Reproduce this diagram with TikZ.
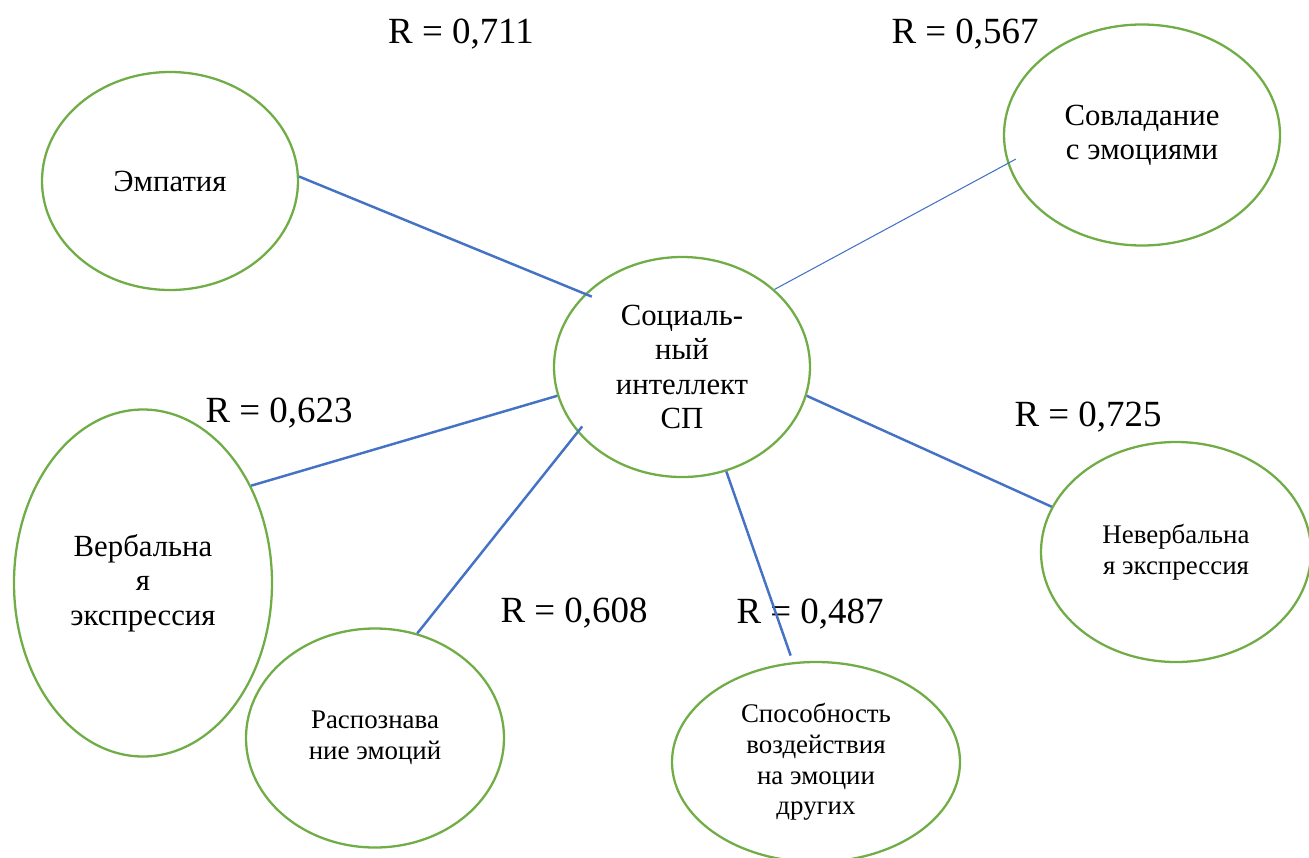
\documentclass[tikz,border=0pt]{standalone}
\usepackage{fontspec}
\setmainfont{Liberation Serif}
\usepackage{tikz}
\usetikzlibrary{shapes.geometric}
\definecolor{leafgreen}{HTML}{70AD47}
\definecolor{linkblue}{HTML}{4472C4}

\begin{document}
\begin{tikzpicture}[
        oval/.style={ellipse, draw=leafgreen, line width=1.3pt, inner sep=0pt, align=center, font={\fontsize{17.5}{19.5}\selectfont}},
        smalloval/.style={oval, font={\fontsize{15.3}{17.5}\selectfont}},
        link/.style={draw=linkblue, line width=1.4pt},
        rlabel/.style={anchor=base, inner sep=0pt, font={\fontsize{21}{24}\selectfont}}
    ]
    \useasboundingbox (0,0) rectangle (26.18,-17.14);
    \node[oval, minimum width=5.12cm, minimum height=4.4cm] (soc) at (13.64,-7.34) {Социаль-\\ный\\интеллект\\СП};
    \node[oval, minimum width=5.12cm, minimum height=4.36cm] (emp) at (3.40,-3.62) {Эмпатия};
    \node[oval, minimum width=5.52cm, minimum height=4.42cm] (sov) at (22.84,-2.70) {Совладание\\с эмоциями};
    \node[oval, minimum width=5.16cm, minimum height=6.94cm] (verb) at (2.86,-11.66) {Вербальна\\я\\экспрессия};
    \node[smalloval, minimum width=5.16cm, minimum height=4.38cm] (rasp) at (7.50,-14.76) {Распознава\\ние эмоций};
    \node[smalloval, minimum width=5.76cm, minimum height=4.0cm] (spos) at (16.32,-15.24) {Способность\\воздействия\\на эмоции\\других};
    \node[smalloval, minimum width=5.4cm, minimum height=4.4cm] (nev) at (23.52,-11.04) {Невербальна\\я экспрессия};
    % correlations
    \node[rlabel] (r711) at (9.22,-0.86) {R = 0,711};
    \node[rlabel] (r567) at (19.30,-0.86) {R = 0,567};
    \node[rlabel] (r623) at (5.58,-8.44) {R = 0,623};
    \node[rlabel] (r608) at (11.48,-12.44) {R = 0,608};
    \node[rlabel] (r487) at (16.20,-12.46) {R = 0,487};
    \node[rlabel] (r725) at (21.76,-8.52) {R = 0,725};
    \draw[link, shorten >=-0.15cm] (emp.2) -- (soc.143);
    \draw[link, line width=0.6pt, shorten <=-0.19cm] (sov.192) -- (soc.40);
    \draw[link] (verb.42) -- (soc.193);
    \draw[link, shorten >=-0.15cm] (rasp.68) -- (soc.212);
    \draw[link, shorten <=0.14cm] (spos.103) -- (soc.293);
    \draw[link] (nev.160) -- (soc.347);
\end{tikzpicture}
\end{document}
